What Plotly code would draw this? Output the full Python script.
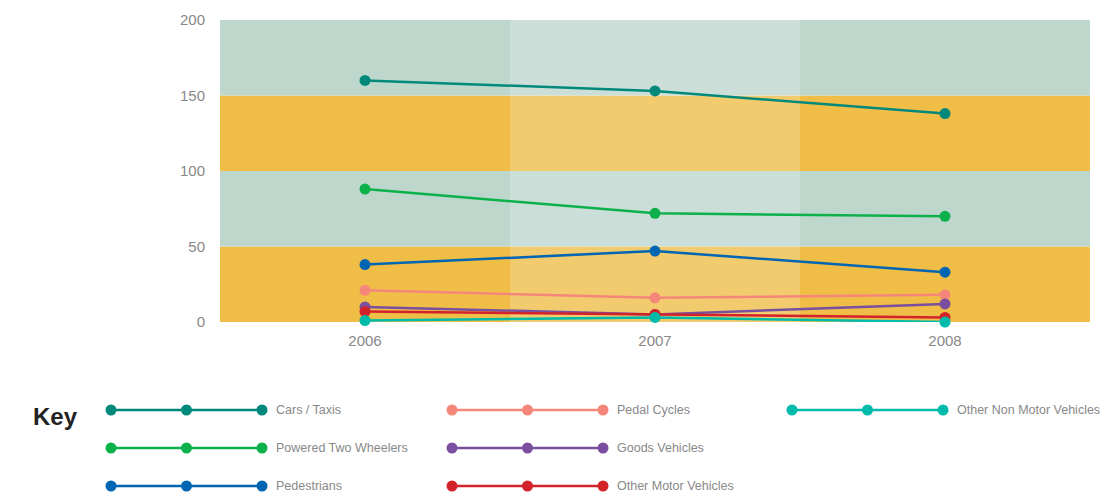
import plotly.graph_objects as go

years = [2006, 2007, 2008]
series_names = ["Cars / Taxis", "Powered Two Wheelers", "Pedestrians",
                "Pedal Cycles", "Goods Vehicles", "Other Motor Vehicles",
                "Other Non Motor Vehicles"]
cars_taxis = [160, 153, 138]
powered_two_wheelers = [88, 72, 70]
pedestrians = [38, 47, 33]
pedal_cycles = [21, 16, 18]
goods_vehicles = [10, 5, 12]
other_motor_vehicles = [7, 5, 3]
other_non_motor_vehicles = [1, 3, 0]
series_values = [cars_taxis, powered_two_wheelers, pedestrians, pedal_cycles,
                 goods_vehicles, other_motor_vehicles, other_non_motor_vehicles]
colors = ["#00897b", "#0db14b", "#0065b3", "#f4877a", "#7a4f9f", "#d2232a", "#00bbaa"]
y_ticks = [0, 50, 100, 150, 200]

# page body has an 8px margin; the figure is placed at (8, 8) in the window
OX, OY = 8, 8
W, H = 1111, 485
FONT = "Liberation Sans, Arial"

fig = go.Figure()

for i in range(len(series_names)):
    fig.add_trace(go.Scatter(
        x=years, y=series_values[i], mode="lines+markers", name=series_names[i],
        line=dict(color=colors[i], width=2.5), marker=dict(color=colors[i], size=11),
        cliponaxis=False, showlegend=False, xaxis="x", yaxis="y"))

# custom key (legend) on a window-pixel overlay axis
col_x = [111, 452, 792]
row_y = [410, 448, 486]
seg = 75.5
for i, name in enumerate(series_names):
    c, r = i // 3, i % 3
    x0 = col_x[c]
    xs = [x0, x0 + seg, x0 + 2 * seg]
    ys = [row_y[r]] * 3
    fig.add_trace(go.Scatter(
        x=xs, y=ys, mode="lines+markers", line=dict(color=colors[i], width=2.5),
        marker=dict(color=colors[i], size=11), showlegend=False, hoverinfo="skip",
        cliponaxis=False, xaxis="x2", yaxis="y2"))
    fig.add_annotation(x=x0 + 2 * seg + 12, y=row_y[r], xref="x2", yref="y2",
                       text=name, showarrow=False, xanchor="left", yanchor="middle",
                       font=dict(family=FONT, size=12.5, color="#888888"))

fig.add_annotation(x=55, y=416, xref="x2", yref="y2", text="<b>Key</b>", showarrow=False,
                   xanchor="center", yanchor="middle",
                   font=dict(family=FONT, size=24, color="#222222"))

# background bands
band_colors = ["#f0bd47", "#bdd7cd", "#f0bd47", "#bdd7cd"]
for k in range(4):
    fig.add_shape(type="rect", xref="x domain", yref="y", x0=0, x1=1,
                  y0=y_ticks[k], y1=y_ticks[k + 1], fillcolor=band_colors[k],
                  line_width=0, layer="below")
fig.add_shape(type="rect", xref="x", yref="y domain", x0=2006.5, x1=2007.5, y0=0, y1=1,
              fillcolor="rgba(255,255,255,0.22)", line_width=0, layer="below")

fig.update_layout(
    width=W, height=H, template="none",
    margin=dict(l=0, r=0, t=0, b=0),
    paper_bgcolor="white", plot_bgcolor="rgba(0,0,0,0)",
    xaxis=dict(domain=[(220 - OX) / W, (1090 - OX) / W], range=[2005.5, 2008.5], tickvals=years,
               ticktext=[str(y) for y in years], showgrid=False, zeroline=False,
               showline=False, ticks="", automargin=False, ticklabelstandoff=8,
               tickfont=dict(family=FONT, size=15, color="#888888")),
    yaxis=dict(domain=[1 - (322 - OY) / H, 1 - (20 - OY) / H], range=[0, 200], tickvals=y_ticks,
               showgrid=False, zeroline=False, showline=False, ticks="", automargin=False,
               ticklabelstandoff=14,
               tickfont=dict(family=FONT, size=15, color="#888888")),
    xaxis2=dict(domain=[0, 1], range=[OX, OX + W], visible=False, anchor="y2", fixedrange=True),
    yaxis2=dict(domain=[0, 1], range=[OY + H, OY], visible=False, anchor="x2", fixedrange=True),
)

fig.write_html("out.html")
